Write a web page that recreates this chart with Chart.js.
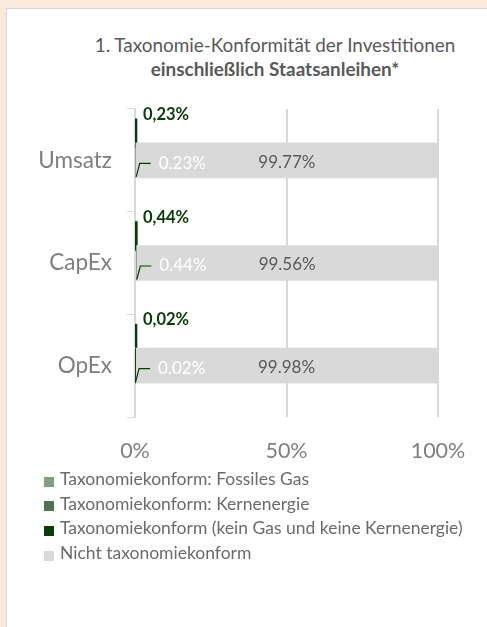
<!DOCTYPE html>
<html><head><meta charset="utf-8">
<script src="https://cdn.jsdelivr.net/npm/chart.js@4"></script>
<style>
html,body{margin:0;padding:0;width:487px;height:627px;overflow:hidden;background:#fbeadb;font-family:Lato,sans-serif}
#panel{position:absolute;left:6px;top:8px;width:481px;height:619px;background:#fff;border-left:1px solid #d9d9d9;border-top:1px solid #d9d9d9;box-sizing:border-box}
#c{position:absolute;left:0;top:0}
#title{position:absolute;left:0;width:550px;top:33px;text-align:center;color:#595959;font-size:18.9px;line-height:24px;white-space:nowrap}
#title b{font-weight:700}
#legend{position:absolute;left:44px;top:467px;color:#6b6b6b;font-size:17.5px;line-height:24.7px}
#legend .row{position:relative;height:24.7px;white-space:nowrap}
#legend .sw{position:absolute;left:0;top:9.5px;width:10px;height:10px}
#legend .tx{position:absolute;left:16px;top:0}
</style></head>
<body>
<div id="panel"></div>
<div id="title">1. Taxonomie-Konformität der Investitionen<br><b>einschließlich Staatsanleihen*</b></div>
<canvas id="c" width="487" height="627"></canvas>
<div id="legend"></div>
<script>
const categories = ['Umsatz', 'CapEx', 'OpEx'];
const seriesNames = ['Taxonomiekonform: Fossiles Gas', 'Taxonomiekonform: Kernenergie', 'Taxonomiekonform (kein Gas und keine Kernenergie)', 'Nicht taxonomiekonform'];
const fossilGas = [0, 0, 0];
const nuclear = [0, 0, 0];
const aligned = [0.23, 0.44, 0.02];
const notAligned = [99.77, 99.56, 99.98];
const xTickValues = [0, 50, 100];
const seriesColors = ['#819f81', '#4d7350', '#0b3a0b', '#d9d9d9'];

// legend
const lg = document.getElementById('legend');
seriesNames.forEach((n, i) => {
  const r = document.createElement('div'); r.className = 'row';
  const s = document.createElement('span'); s.className = 'sw'; s.style.background = seriesColors[i];
  const t = document.createElement('span'); t.className = 'tx'; t.textContent = n;
  r.appendChild(s); r.appendChild(t); lg.appendChild(r);
});

Chart.defaults.font.family = 'Lato, sans-serif';
const nulls = categories.map(() => null);

const labelPlugin = {
  id: 'labels',
  afterDatasetsDraw(chart) {
    const ctx = chart.ctx;
    const mGreen = chart.getDatasetMeta(3), mGrey = chart.getDatasetMeta(4), mTop = chart.getDatasetMeta(5);
    ctx.save();
    categories.forEach((c, i) => {
      const tb = mTop.data[i];
      const topY = tb.y - tb.height / 2;
      ctx.font = 'bold 16.5px Lato';
      ctx.fillStyle = '#0b3a0b';
      ctx.textAlign = 'left';
      ctx.textBaseline = 'alphabetic';
      ctx.fillText(aligned[i].toFixed(2).replace('.', ',') + '%', tb.base + 7, topY);

      const gb = mGreen.data[i];
      const bottom = gb.y + gb.height / 2;
      ctx.strokeStyle = '#0b3a0b';
      ctx.lineWidth = 1.2;
      ctx.beginPath();
      ctx.moveTo(gb.x + 0.5, bottom - 1);
      ctx.lineTo(gb.x + 4, gb.y + 3);
      ctx.lineTo(gb.x + 15, gb.y + 3);
      ctx.stroke();
      ctx.font = '17px Lato';
      ctx.fillStyle = '#ffffff';
      ctx.textBaseline = 'middle';
      ctx.fillText(aligned[i].toFixed(2) + '%', gb.x + 23, gb.y + 3);

      const yb = mGrey.data[i];
      ctx.fillStyle = '#595959';
      ctx.textAlign = 'center';
      ctx.fillText(notAligned[i].toFixed(2) + '%', (yb.x + yb.base) / 2, yb.y + 2);
    });
    ctx.restore();
  }
};

new Chart(document.getElementById('c'), {
  type: 'bar',
  data: {
    labels: categories,
    datasets: [
      { label: '', data: nulls, stack: 'top', barThickness: 27 },
      { label: seriesNames[0], data: fossilGas, backgroundColor: seriesColors[0], stack: 'main', barThickness: 35, inflateAmount: 0 },
      { label: seriesNames[1], data: nuclear, backgroundColor: seriesColors[1], stack: 'main', barThickness: 35, inflateAmount: 0 },
      { label: seriesNames[2], data: aligned, backgroundColor: seriesColors[2], stack: 'main', barThickness: 35, inflateAmount: 0 },
      { label: seriesNames[3], data: notAligned, backgroundColor: seriesColors[3], stack: 'main', barThickness: 35 },
      { label: seriesNames[2], data: aligned, backgroundColor: seriesColors[2], stack: 'top', barThickness: 27, inflateAmount: 1.3 },
      { label: '', data: nulls, stack: 'pad', barThickness: 35 }
    ]
  },
  options: {
    indexAxis: 'y',
    responsive: false,
    animation: false,
    layout: { padding: { top: 109, right: 49, left: 0, bottom: 0 } },
    plugins: { legend: { display: false }, title: { display: false }, tooltip: { enabled: false } },
    scales: {
      x: {
        stacked: true, min: 0, max: 100,
        afterBuildTicks: s => { s.ticks = xTickValues.map(v => ({ value: v })); },
        ticks: { callback: v => v + '%', color: '#7f7f7f', font: { size: 21.5 }, padding: 21, maxRotation: 0 },
        grid: { color: '#d9d9d9', lineWidth: 2, drawTicks: false },
        border: { display: false },
        afterFit: s => { s.height = 210; }
      },
      y: {
        stacked: true,
        ticks: { color: '#7f7f7f', font: { size: 22.5 }, padding: 15 },
        grid: { drawOnChartArea: false, color: '#d9d9d9', tickLength: 8, offset: true },
        border: { display: true, color: '#d9d9d9', width: 1 },
        afterFit: s => { s.width = 135; }
      }
    }
  },
  plugins: [labelPlugin]
});
</script>
</body></html>
